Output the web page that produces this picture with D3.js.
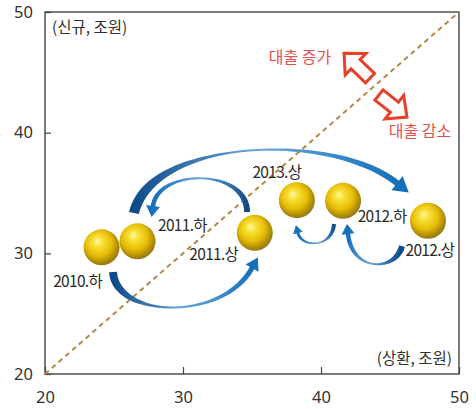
<!DOCTYPE html>
<html>
<head>
<meta charset="utf-8">
<script src="https://cdn.jsdelivr.net/npm/d3@7"></script>
<style>
  body { margin: 0; background: #fff; }
  svg text { font-family: "Noto Sans CJK KR", "Noto Sans", sans-serif; }
</style>
</head>
<body>
<svg id="chart"></svg>
<script>
// points: (상환, 신규) in 조원
var periods = ["2010.하", "2011.상", "2011.하", "2012.상", "2012.하", "2013.상"];
var repay   = [24.1, 35.2, 26.7, 47.75, 41.6, 38.25];
var newLoan = [30.5, 31.7, 31.0, 32.7, 34.35, 34.4];
// label offsets from ball, px
var labelDx = [-24, -41, 45, 2, 39, -20];
var labelDy = [34, 22, -16, 30, 16, -28];

var ticks = [20, 30, 40, 50];

// curved blue arrows between periods, cubic control points in data units
var arrowFrom = ["2010.하", "2011.상", "2011.하", "2012.상", "2012.하"];
var arrowCtrl = [
    [[24.93, 28.45], [25.14, 24.64], [32.83, 24.31], [35.0, 28.78]],
    [[34.64, 33.42], [34.64, 37.07], [28.19, 37.07], [27.83, 33.92]],
    [[26.45, 33.34], [27.61, 39.39], [40.65, 40.22], [45.51, 35.82]],
    [[45.87, 30.60], [45.36, 28.45], [42.25, 28.45], [41.96, 31.60]],
    [[40.94, 32.43], [40.80, 30.44], [38.62, 30.44], [38.33, 31.68]]
];
// widths: tail, thinnest, before head, head half-width, head length
var arrowW = [
    [8, 2, 5, 7.5, 12],
    [6, 2, 4.5, 7, 11],
    [10, 2, 6, 9, 15],
    [6, 2, 4.5, 6.5, 10],
    [4, 1.5, 3, 5, 8]
];

// red hollow arrows
var redText = ["대출 증가", "대출 감소"];
var redTextPos = [[38.48, 46.26], [47.17, 40.13]];
var redFrom = [[43.55, 44.52], [44.2, 43.12]];
var redTo   = [[41.67, 46.59], [46.23, 41.29]];

var width = 476, height = 409;
var svg = d3.select("#chart").attr("width", width).attr("height", height);

var x = d3.scaleLinear().domain([20, 50]).range([45, 459]);
var y = d3.scaleLinear().domain([20, 50]).range([374, 12]);

var defs = svg.append("defs");

var ball = defs.append("radialGradient")
    .attr("id", "ball")
    .attr("cx", "0.45").attr("cy", "0.42").attr("r", "0.6")
    .attr("fx", "0.38").attr("fy", "0.32");
ball.append("stop").attr("offset", "0").attr("stop-color", "#fff7a8");
ball.append("stop").attr("offset", "0.22").attr("stop-color", "#f9e23a");
ball.append("stop").attr("offset", "0.6").attr("stop-color", "#e6bd05");
ball.append("stop").attr("offset", "0.85").attr("stop-color", "#b08c06");
ball.append("stop").attr("offset", "1").attr("stop-color", "#8c7420");

// frame
svg.append("rect")
    .attr("x", x(20)).attr("y", y(50))
    .attr("width", x(50) - x(20)).attr("height", y(20) - y(50))
    .attr("fill", "none").attr("stroke", "#444").attr("stroke-width", 1.4);

var xAxis = d3.axisBottom(x).tickValues(ticks).tickSizeInner(-7).tickSizeOuter(0).tickPadding(17);
var yAxis = d3.axisLeft(y).tickValues(ticks).tickSizeInner(-6).tickSizeOuter(0).tickPadding(12);

svg.append("g")
    .attr("transform", "translate(0," + y(20) + ")")
    .call(xAxis)
    .call(function(g) { g.select(".domain").remove(); });
svg.append("g")
    .attr("transform", "translate(" + x(20) + ",0)")
    .call(yAxis)
    .call(function(g) { g.select(".domain").remove(); });

svg.selectAll(".tick line").attr("stroke", "#444").attr("stroke-width", 1.2);
svg.selectAll(".tick text")
    .attr("fill", "#333")
    .style("font-size", "16.5px")
    .style("font-family", "'Noto Sans', sans-serif");

// 45 degree line
svg.append("line")
    .attr("x1", x(20)).attr("y1", y(20))
    .attr("x2", x(50)).attr("y2", y(50))
    .attr("stroke", "#b08a45").attr("stroke-width", 2)
    .attr("stroke-dasharray", "5,4");

svg.append("text")
    .attr("x", x(20) + 7).attr("y", y(50) + 21)
    .attr("fill", "#333").style("font-size", "15.5px")
    .text("(신규, 조원)");
svg.append("text")
    .attr("x", x(50) - 7).attr("y", y(20) - 10)
    .attr("text-anchor", "end")
    .attr("fill", "#333").style("font-size", "15.5px")
    .text("(상환, 조원)");

// red arrows
function blockArrow(f, t, sw, hw, hl) {
    var fx = x(f[0]), fy = y(f[1]), tx = x(t[0]), ty = y(t[1]);
    var dx = tx - fx, dy = ty - fy, len = Math.sqrt(dx * dx + dy * dy);
    var ux = dx / len, uy = dy / len, nx = -uy, ny = ux;
    var bx = tx - ux * hl, by = ty - uy * hl;
    var p = [
        [fx + nx * sw / 2, fy + ny * sw / 2],
        [bx + nx * sw / 2, by + ny * sw / 2],
        [bx + nx * hw / 2, by + ny * hw / 2],
        [tx, ty],
        [bx - nx * hw / 2, by - ny * hw / 2],
        [bx - nx * sw / 2, by - ny * sw / 2],
        [fx - nx * sw / 2, fy - ny * sw / 2]
    ];
    return "M" + p.map(function(q) { return q.join(","); }).join("L") + "Z";
}

for (var i = 0; i < redFrom.length; i++) {
    svg.append("path")
        .attr("d", blockArrow(redFrom[i], redTo[i], 13, 30, 16))
        .attr("fill", "#fff").attr("stroke", "#e8402a")
        .attr("stroke-width", 3).attr("stroke-linejoin", "miter");
    svg.append("text")
        .attr("x", x(redTextPos[i][0])).attr("y", y(redTextPos[i][1]))
        .attr("dy", "0.35em").attr("text-anchor", "middle")
        .attr("fill", "#e6504a").style("font-size", "16px")
        .text(redText[i]);
}

// blue curved arrows
function bez(P, t) {
    var s = 1 - t;
    return [
        s*s*s*P[0][0] + 3*s*s*t*P[1][0] + 3*s*t*t*P[2][0] + t*t*t*P[3][0],
        s*s*s*P[0][1] + 3*s*s*t*P[1][1] + 3*s*t*t*P[2][1] + t*t*t*P[3][1]
    ];
}
function bezD(P, t) {
    var s = 1 - t;
    return [
        3*s*s*(P[1][0]-P[0][0]) + 6*s*t*(P[2][0]-P[1][0]) + 3*t*t*(P[3][0]-P[2][0]),
        3*s*s*(P[1][1]-P[0][1]) + 6*s*t*(P[2][1]-P[1][1]) + 3*t*t*(P[3][1]-P[2][1])
    ];
}
function curveArrow(ctrl, w) {
    var P = ctrl.map(function(p) { return [x(p[0]), y(p[1])]; });
    var tm = 0.5, n = 60, left = [], right = [];
    for (var k = 0; k <= n; k++) {
        var t = k / n, b = bez(P, t), d = bezD(P, t);
        var l = Math.sqrt(d[0]*d[0] + d[1]*d[1]);
        var nx = -d[1] / l, ny = d[0] / l, ww;
        if (t < tm) ww = w[1] + (w[0] - w[1]) * (0.5 + 0.5 * Math.cos(Math.PI * t / tm));
        else ww = w[1] + (w[2] - w[1]) * (0.5 - 0.5 * Math.cos(Math.PI * (t - tm) / (1 - tm)));
        left.push([b[0] + nx * ww / 2, b[1] + ny * ww / 2]);
        right.push([b[0] - nx * ww / 2, b[1] - ny * ww / 2]);
    }
    var e = P[3], d1 = bezD(P, 1), l1 = Math.sqrt(d1[0]*d1[0] + d1[1]*d1[1]);
    var ux = d1[0] / l1, uy = d1[1] / l1, hx = -uy, hy = ux;
    var head = [
        [e[0] + hx * w[3], e[1] + hy * w[3]],
        [e[0] + ux * w[4], e[1] + uy * w[4]],
        [e[0] - hx * w[3], e[1] - hy * w[3]]
    ];
    var pts = left.concat(head, right.reverse());
    return { d: "M" + pts.map(function(q) { return q[0].toFixed(2) + "," + q[1].toFixed(2); }).join("L") + "Z", P: P };
}

arrowCtrl.forEach(function(c, i) {
    var a = curveArrow(c, arrowW[i]);
    var g = defs.append("linearGradient")
        .attr("id", "ag" + i)
        .attr("gradientUnits", "userSpaceOnUse")
        .attr("x1", a.P[0][0]).attr("y1", a.P[0][1])
        .attr("x2", a.P[3][0]).attr("y2", a.P[3][1]);
    g.append("stop").attr("offset", "0").attr("stop-color", "#0f4a88");
    g.append("stop").attr("offset", "0.5").attr("stop-color", "#6aa8dc");
    g.append("stop").attr("offset", "1").attr("stop-color", "#1570bb");
    svg.append("path")
        .attr("class", "flow " + arrowFrom[i])
        .attr("d", a.d)
        .attr("fill", "url(#ag" + i + ")");
});

// balls
var data = periods.map(function(p, i) {
    return { period: p, x: repay[i], y: newLoan[i], dx: labelDx[i], dy: labelDy[i] };
});

svg.selectAll(".ball")
    .data(data)
    .enter().append("circle")
    .attr("class", "ball")
    .attr("cx", function(d) { return x(d.x); })
    .attr("cy", function(d) { return y(d.y); })
    .attr("r", 18)
    .attr("fill", "url(#ball)");

svg.selectAll(".lbl")
    .data(data)
    .enter().append("text")
    .attr("class", "lbl")
    .attr("x", function(d) { return x(d.x) + d.dx; })
    .attr("y", function(d) { return y(d.y) + d.dy; })
    .attr("dy", "0.35em")
    .attr("text-anchor", "middle")
    .attr("fill", "#2a2a2a")
    .style("font-size", "15.5px")
    .style("letter-spacing", "-0.7px")
    .text(function(d) { return d.period; });
</script>
</body>
</html>
